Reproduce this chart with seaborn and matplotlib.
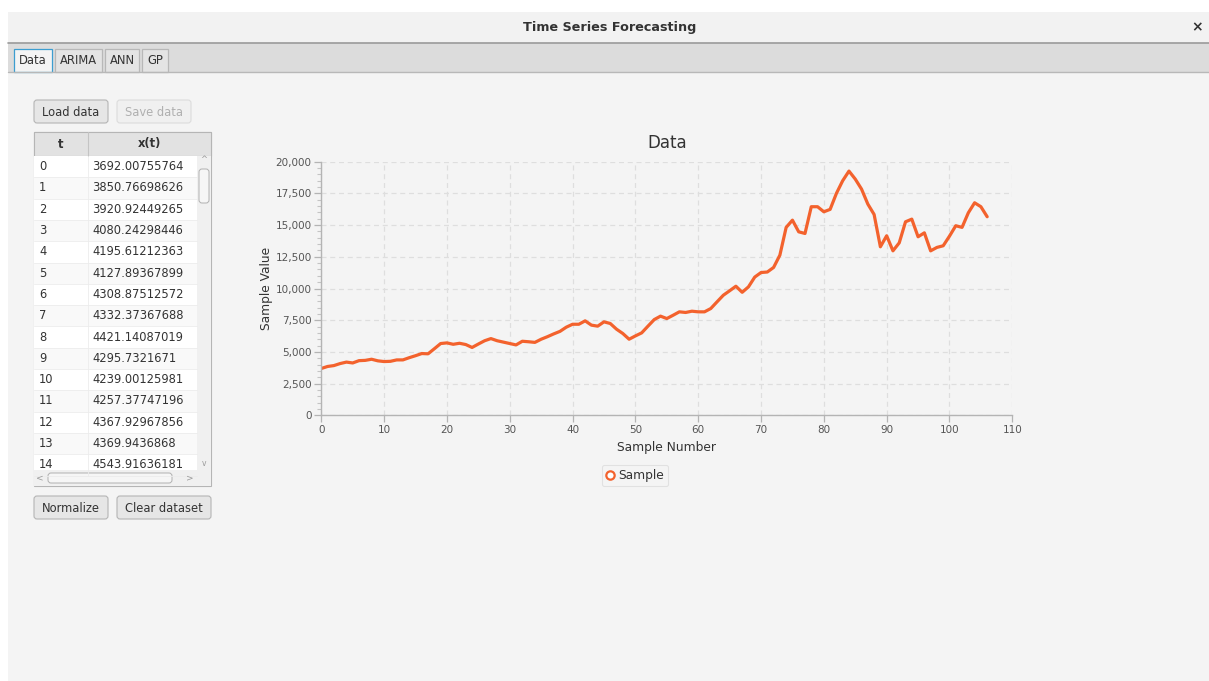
import matplotlib
matplotlib.use("Agg")
from matplotlib import pyplot as plt
from matplotlib.patches import Rectangle, FancyBboxPatch
from matplotlib.ticker import MultipleLocator, FuncFormatter
from matplotlib.lines import Line2D
import pandas as pd
import seaborn as sns

# sample values, t = 0 .. 106 (first 15 from the table, rest)
sample_values = [
    3692.00755764, 3850.76698626, 3920.92449265, 4080.24298446, 4195.61212363,
    4127.89367899, 4308.87512572, 4332.37367688, 4421.14087019, 4295.7321671,
    4239.00125981, 4257.37747196, 4367.92967856, 4369.9436868, 4543.91636181,
    4700, 4870, 4850, 5250, 5660, 5710, 5600, 5680, 5580, 5350,
    5620, 5880, 6050, 5880, 5770, 5660, 5550, 5840, 5800, 5750,
    6000, 6200, 6420, 6620, 6950, 7180, 7180, 7450, 7110, 7030,
    7370, 7240, 6790, 6450, 6000, 6260, 6500, 7030, 7550, 7820,
    7630, 7890, 8160, 8110, 8210, 8160, 8160, 8420, 8950, 9470,
    9820, 10180, 9700, 10130, 10900, 11260, 11300, 11660, 12630, 14820,
    15390, 14470, 14340, 16450, 16450, 16050, 16240, 17500, 18500, 19260,
    18630, 17840, 16660, 15840, 13290, 14160, 12970, 13600, 15260, 15470,
    14080, 14390, 12970, 13240, 13370, 14130, 14950, 14820, 15970, 16760,
    16450, 15660,
]
sample_numbers = list(range(len(sample_values)))
table_rows = 15
tab_names = ["Data", "ARIMA", "ANN", "GP"]

frame = pd.DataFrame({"Sample Number": sample_numbers, "Sample Value": sample_values})

sns.set_style("whitegrid")
plt.rcParams["font.family"] = ["DejaVu Sans"]

W, H = 1209, 681
fig = plt.figure(figsize=(W / 100, H / 100), dpi=100)
fig.patch.set_facecolor("white")

# ---- window chrome, drawn in pixel coordinates ----
bg = fig.add_axes([0, 0, 1, 1], zorder=0)
bg.set_xlim(0, W)
bg.set_ylim(H, 0)
bg.axis("off")

def rect(x, y, w, h, fc, ec="none", lw=1.0):
    bg.add_patch(Rectangle((x, y), w, h, facecolor=fc, edgecolor=ec, linewidth=lw))

def button(x, y, w, h, label, enabled=True):
    bg.add_patch(FancyBboxPatch((x, y), w, h, boxstyle="round,pad=0,rounding_size=3",
                                facecolor="#e6e6e6" if enabled else "#f0f0f0",
                                edgecolor="#b5b5b5" if enabled else "#dcdcdc", linewidth=0.8))
    bg.text(x + w / 2, y + h / 2 + 0.5, label, ha="center", va="center", fontsize=8.3,
            color="#333333" if enabled else "#b0b0b0")

rect(8, 12, W - 8, H - 12, "#f4f4f4")
rect(8, 12, W - 8, 31, "#f2f2f2")
bg.text(610, 27, "Time Series Forecasting", ha="center", va="center",
        fontsize=9.2, fontweight="bold", color="#333333")
bg.text(1197, 27, "×", ha="center", va="center", fontsize=10, fontweight="bold", color="#333333")
rect(8, 43, W - 8, 29, "#dcdcdc")
bg.plot([8, W], [43, 43], color="#9a9a9a", lw=1.2)
bg.plot([8, W], [72, 72], color="#b8b8b8", lw=1)

tab_x = [14, 55, 105, 142]
tab_w = [38, 47, 34, 26]
for name, tx, tw in zip(tab_names, tab_x, tab_w):
    active = name == "Data"
    rect(tx, 49, tw, 23, "#f4f4f4" if active else "#e4e4e4",
         ec="#3c9dd0" if active else "#b8b8b8", lw=0.9)
    bg.text(tx + tw / 2, 61, name, ha="center", va="center", fontsize=8.3, color="#333333")

button(34, 100, 74, 23, "Load data")
button(117, 100, 74, 23, "Save data", enabled=False)
button(34, 496, 74, 23, "Normalize")
button(117, 496, 94, 23, "Clear dataset")

# table
rect(34, 132, 177, 354, "white", ec="#b5b5b5", lw=0.8)
rect(34, 132, 177, 24, "#e2e2e2", ec="#b5b5b5", lw=0.8)
bg.plot([88, 88], [132, 156], color="#c4c4c4", lw=0.8)
bg.text(61, 144, "t", ha="center", va="center", fontsize=8.3, fontweight="bold", color="#333333")
bg.text(150, 144, "x(t)", ha="center", va="center", fontsize=8.3, fontweight="bold", color="#333333")
row_h = 21.3
for i in range(table_rows):
    y0 = 156 + i * row_h
    rect(34, y0, 163, row_h, "white" if i % 2 == 0 else "#f9f9f9")
    bg.plot([34, 197], [y0 + row_h, y0 + row_h], color="#ececec", lw=0.6)
    bg.plot([88, 88], [y0, y0 + row_h], color="#ececec", lw=0.6)
    bg.text(39, y0 + row_h / 2, str(sample_numbers[i]), ha="left", va="center",
            fontsize=8.3, color="#333333")
    bg.text(92, y0 + row_h / 2, str(sample_values[i]), ha="left", va="center",
            fontsize=8.3, color="#333333")
# scrollbars
rect(197, 156, 14, 314, "#f0f0f0")
bg.add_patch(FancyBboxPatch((199, 169), 10, 34, boxstyle="round,pad=0,rounding_size=3",
                            facecolor="#f6f6f6", edgecolor="#b0b0b0", linewidth=0.7))
bg.text(204, 160, "^", ha="center", va="center", fontsize=6, color="#999999")
bg.text(204, 464, "v", ha="center", va="center", fontsize=5.5, color="#999999")
rect(34, 470, 177, 16, "#f0f0f0")
bg.add_patch(FancyBboxPatch((48, 473), 124, 10, boxstyle="round,pad=0,rounding_size=3",
                            facecolor="#f6f6f6", edgecolor="#b0b0b0", linewidth=0.7))
bg.text(40, 478, "<", ha="center", va="center", fontsize=6.5, color="#999999")
bg.text(190, 478, ">", ha="center", va="center", fontsize=6.5, color="#999999")

# ---- chart ----
x0, x1, ytop, ybot = 321.3, 1012.3, 161.7, 415.3
ax = fig.add_axes([x0 / W, 1 - ybot / H, (x1 - x0) / W, (ybot - ytop) / H], zorder=1)
ax.set_facecolor("none")
sns.lineplot(data=frame, x="Sample Number", y="Sample Value", ax=ax,
             color="#f3622d", linewidth=2.3, legend=False)
ax.set_xlim(0, 110)
ax.set_ylim(0, 20000)
ax.xaxis.set_major_locator(MultipleLocator(10))
ax.yaxis.set_major_locator(MultipleLocator(2500))
ax.yaxis.set_minor_locator(MultipleLocator(500))
ax.yaxis.set_major_formatter(FuncFormatter(lambda v, p: f"{int(v):,}"))
ax.grid(True, which="major", color="#dedede", linestyle=(0, (4, 3)), linewidth=0.9)
ax.grid(False, which="minor")
for side in ["top", "right"]:
    ax.spines[side].set_visible(False)
for side in ["left", "bottom"]:
    ax.spines[side].set_color("#b4b4b4")
    ax.spines[side].set_linewidth(1.0)
ax.tick_params(axis="both", which="major", direction="out", length=5, width=0.9,
               color="#b4b4b4", labelcolor="#555555", labelsize=7.5, pad=2,
               left=True, bottom=True)
ax.tick_params(axis="y", which="minor", direction="out", length=3, width=0.8,
               color="#c4c4c4", left=True)
ax.set_xlabel("Sample Number", fontsize=8.8, color="#333333", labelpad=4)
ax.set_ylabel("Sample Value", fontsize=8.8, color="#333333", labelpad=2)
ax.set_title("Data", fontsize=12, color="#333333", pad=10)

handle = Line2D([], [], linestyle="none", marker="o", markersize=6,
                markerfacecolor="white", markeredgecolor="#f3622d", markeredgewidth=1.6)
leg = fig.legend([handle], ["Sample"], loc="center", bbox_to_anchor=(635 / W, 1 - 475.5 / H),
                 frameon=True, fontsize=8.8, handlelength=0.6, handletextpad=0.4,
                 borderpad=0.35, fancybox=True)
leg.get_frame().set_facecolor("#f4f4f4")
leg.get_frame().set_edgecolor("#dddddd")
leg.get_frame().set_linewidth(0.8)
for t in leg.get_texts():
    t.set_color("#333333")

plt.savefig("out.png", dpi=100, facecolor=fig.get_facecolor())
